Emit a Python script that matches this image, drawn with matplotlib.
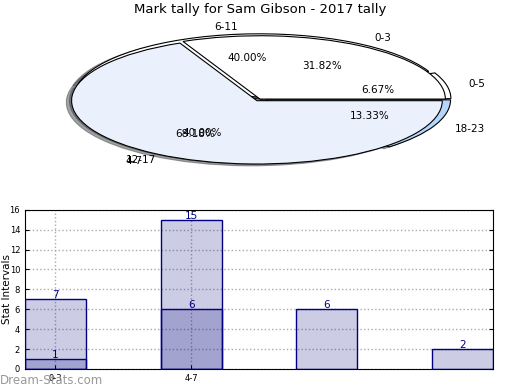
import matplotlib
matplotlib.use('Agg')
import matplotlib.pyplot as plt
import numpy as np

title = 'Mark tally for Sam Gibson - 2017 tally'
labelsA = ['0-3', '4-7']
valuesA = [7, 15]
labelsB = ['0-5', '6-11', '12-17', '18-23']
valuesB = [1, 6, 6, 2]
yticks = [0, 2, 4, 6, 8, 10, 12, 14, 16]

navy = '#000080'

fig = plt.figure(figsize=(5.2, 3.9), dpi=100)
fig.text(0.5, 0.975, title, ha='center', va='center', fontsize=9.5)

# pie part, drawn squashed (aspect auto)
axp = fig.add_axes([0.129, 0.577, 0.742, 0.338])
wB, tB, aB = axp.pie(valuesB, labels=labelsB, autopct='%.2f%%', startangle=0,
                     colors=['#ffffff', '#ffffff', '#eaf1fd', '#b6d5fb'],
                     explode=[0.03, 0.03, 0.0, 0.03], radius=0.98,
                     labeldistance=1.12, pctdistance=0.62, shadow=True,
                     wedgeprops=dict(edgecolor='black', linewidth=0.8),
                     textprops=dict(fontsize=7.5))
wA, tA, aA = axp.pie(valuesA, labels=labelsA, autopct='%.2f%%', startangle=0,
                     colors=['#ffffff', '#eaf1fd'],
                     explode=[0.0, 0.03], radius=0.98,
                     labeldistance=1.14, pctdistance=0.62, shadow=True,
                     wedgeprops=dict(edgecolor='black', linewidth=0.8),
                     textprops=dict(fontsize=7.5))
axp.set_aspect('auto')
axp.set_xlim(-1.02, 1.02)
axp.set_ylim(-1.02, 1.02)
axp.axis('off')

# bar part
ax = fig.add_axes([0.048, 0.054, 0.9, 0.408])
w = 0.45
xA = np.arange(len(valuesA))
xB = np.arange(len(valuesB))
ax.bar(xA, valuesA, width=w, color=navy, alpha=0.2, zorder=2)
ax.bar(xA, valuesA, width=w, fill=False, edgecolor=navy, linewidth=1, zorder=3)
ax.bar(xB, valuesB, width=w, color=navy, alpha=0.2, zorder=2)
ax.bar(xB, valuesB, width=w, fill=False, edgecolor=navy, linewidth=1, zorder=3)
for x, v in zip(xA, valuesA):
    ax.text(x, v + 0.4, str(v), ha='center', va='center', color=navy, fontsize=7.5, zorder=4)
for x, v in zip(xB, valuesB):
    ax.text(x, v + 0.4, str(v), ha='center', va='center', color=navy, fontsize=7.5, zorder=4)

ax.set_xlim(-w / 2, len(valuesB) - 1 + w / 2)
ax.set_ylim(0, 16)
ax.set_yticks(yticks)
ax.set_xticks(xA)
ax.set_xticklabels(labelsA)
ax.tick_params(labelsize=6, direction='in', right=True, length=3)
ax.grid(True, linestyle=':', color='#aaaaaa', linewidth=1, zorder=1)
ax.set_axisbelow(True)
ax.set_ylabel('Stat Intervals', fontsize=7.5)
ax.yaxis.set_label_coords(-0.028, 0.5)
ax.set_xlabel('Frequency', fontsize=8, labelpad=7)

fig.text(0.0, 0.025, 'Dream-Stats.com', color='#999999', fontsize=8.5,
         ha='left', va='center')

plt.savefig('out.png', dpi=100)
